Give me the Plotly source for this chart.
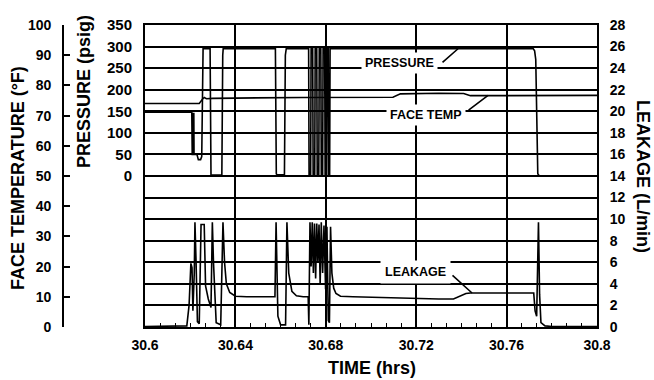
import plotly.graph_objects as go

# ---------------- data ----------------
time_ticks = [30.6, 30.64, 30.68, 30.72, 30.76, 30.8]
time_tick_text = ["30.6", "30.64", "30.68", "30.72", "30.76", "30.8"]
leak_ticks = [0, 2, 4, 6, 8, 10, 12, 14, 16, 18, 20, 22, 24, 26, 28]
temp_ticks = [0, 10, 20, 30, 40, 50, 60, 70, 80, 90, 100]
press_ticks = [0, 50, 100, 150, 200, 250, 300, 350]

leak_time = [30.6000, 30.6100, 30.6185, 30.6195, 30.6203, 30.6208, 30.6212, 30.6218,
             30.6221, 30.6226, 30.6232, 30.6240, 30.6248, 30.6262, 30.6268, 30.6280,
             30.6292, 30.6298, 30.6303, 30.6315, 30.6335, 30.6345, 30.6352, 30.6360,
             30.6375, 30.6400, 30.6450, 30.6575, 30.6580, 30.6588, 30.6600, 30.6622,
             30.6628, 30.6636, 30.6650, 30.6670, 30.6700, 30.6722, 30.6725, 30.6730,
             30.6735, 30.6740, 30.6745, 30.6750, 30.6755, 30.6760, 30.6765, 30.6770,
             30.6775, 30.6780, 30.6786, 30.6792, 30.6799, 30.6805, 30.6811, 30.6816,
             30.6821, 30.6827, 30.6835, 30.6845, 30.6865, 30.6920, 30.7000, 30.7100,
             30.7200, 30.7300, 30.7365, 30.7395, 30.7420, 30.7440, 30.7550, 30.7720,
             30.7726, 30.7733, 30.7741, 30.7746, 30.7752, 30.7770, 30.7800, 30.8000]
leak_lpm = [0.05, 0.10, 0.10, 2.0, 5.9, 5.5, 1.5, 5.0,
            9.7, 6.0, 0.5, 0.3, 9.5, 9.5, 3.8, 2.6,
            1.8, 9.7, 6.0, 0.4, 0.2, 9.7, 6.0, 4.0,
            3.2, 2.85, 2.8, 2.8, 9.7, 1.0, 0.2, 0.2,
            9.7, 5.0, 3.3, 2.9, 2.8, 2.8, 0.2, 9.7,
            5.6, 9.7, 5.0, 9.6, 4.5, 9.6, 6.0, 9.5,
            4.0, 9.7, 5.0, 9.4, 3.5, 9.3, 0.6, 0.4,
            9.3, 5.0, 3.6, 3.1, 2.85, 2.8, 2.75, 2.68,
            2.62, 2.6, 2.6, 2.9, 3.1, 3.15, 3.15, 3.15,
            1.5, 1.0, 9.7, 3.0, 0.4, 0.1, 0.05, 0.05]

press_time = [30.6000, 30.6207, 30.6209, 30.6213, 30.6214, 30.6216, 30.6217, 30.6230,
              30.6236, 30.6246, 30.6251, 30.6257, 30.6288, 30.6292, 30.6296, 30.6340,
              30.6344, 30.6346, 30.6577, 30.6581, 30.6585, 30.6617, 30.6621, 30.6625,
              30.6724, 30.6726, 30.6733, 30.6735, 30.6742, 30.6744, 30.6751, 30.6753,
              30.6760, 30.6762, 30.6769, 30.6771, 30.6778, 30.6780, 30.6786, 30.6788,
              30.6795, 30.6797, 30.6804, 30.6806, 30.6811, 30.6813, 30.6817, 30.6819,
              30.7718, 30.7724, 30.7729, 30.7732, 30.7738, 30.7745, 30.8000]
press_psig = [148, 148, 50, 50, 145, 145, 50, 50,
              38, 38, 45, 295, 295, 3, 2, 2,
              280, 295, 295, 5, 3, 3, 280, 295,
              295, 2, 2, 295, 295, 2, 2, 295,
              295, 2, 2, 295, 295, 2, 2, 295,
              295, 2, 2, 295, 295, 2, 2, 295,
              295, 290, 270, 150, 5, 0, 0]

temp_time = [30.6000, 30.6240, 30.6255, 30.6262, 30.6272, 30.6300, 30.6400, 30.6600,
             30.6700, 30.7097, 30.7130, 30.7300, 30.7410, 30.7440, 30.7600, 30.8000]
temp_f = [74.0, 74.0, 75.5, 76.0, 75.6, 75.7, 75.8, 76.0,
          76.0, 76.1, 77.2, 77.4, 77.3, 76.6, 76.7, 76.7]

# ---------------- figure ----------------
FONT = "Liberation Sans, Arial, Helvetica, sans-serif"
W, H = 654, 380
ML, MR, MT, MB = 0, 57, 25, 53
PW = W - ML - MR
line = dict(color="black", width=1.6)

fig = go.Figure()
fig.add_trace(go.Scatter(x=leak_time, y=leak_lpm, mode="lines", line=line,
                         yaxis="y", showlegend=False))
fig.add_trace(go.Scatter(x=press_time, y=press_psig, mode="lines", line=line,
                         yaxis="y3", showlegend=False))
fig.add_trace(go.Scatter(x=temp_time, y=temp_f, mode="lines", line=line,
                         yaxis="y2", showlegend=False))

tickfont = dict(family=FONT, size=14, color="black", weight="bold")

fig.update_layout(
    width=W, height=H,
    margin=dict(l=ML, r=MR, t=MT, b=MB, autoexpand=False),
    paper_bgcolor="white", plot_bgcolor="white",
    font=dict(family=FONT, color="black"),
    xaxis=dict(domain=[145 / PW, 1], range=[30.6, 30.8], automargin=False,
               tickvals=time_ticks, ticktext=time_tick_text,
               showgrid=True, gridcolor="black", gridwidth=1.7,
               showline=True, mirror=True, linecolor="black", linewidth=2,
               ticks="inside", ticklen=5, tickcolor="black", tickwidth=1.2,
               minor=dict(dtick=0.04 / 6, tick0=30.6, ticks="inside", ticklen=4,
                          tickcolor="black", tickwidth=1.2, showgrid=False),
               zeroline=False, tickfont=tickfont, ticklabelstandoff=4),
    yaxis=dict(range=[0, 28], tickvals=leak_ticks, side="right", automargin=False,
               showgrid=True, gridcolor="black", gridwidth=1.7,
               showline=True, mirror=True, linecolor="black", linewidth=2,
               ticks="", zeroline=False, tickfont=tickfont, ticklabelstandoff=8),
    yaxis2=dict(range=[0, 100], tickvals=temp_ticks, overlaying="y", anchor="free",
                position=63 / PW, side="left", showgrid=False, zeroline=False,
                automargin=False,
                showline=True, linecolor="black", linewidth=1.6,
                ticks="inside", ticklen=6, tickcolor="black", tickwidth=1.6,
                tickfont=tickfont, ticklabelstandoff=8),
    yaxis3=dict(range=[-350, 350], tickvals=press_ticks, overlaying="y", anchor="free",
                position=134 / PW, side="left", showgrid=False, zeroline=False,
                automargin=False,
                showline=False, ticks="",
                tickfont=dict(family=FONT, size=15, color="black", weight="bold"),
                ticklabelstandoff=2),
)

titlefont = dict(family=FONT, size=18, color="black", weight="bold")
labelfont = dict(family=FONT, size=12.5, color="black", weight="bold")

# axis titles
fig.add_annotation(text="FACE TEMPERATURE (°F)", xref="paper", yref="paper",
                   x=18 / PW, y=(327 - 178) / 302, textangle=-90, showarrow=False,
                   font=titlefont, xanchor="center", yanchor="middle")
fig.add_annotation(text="PRESSURE (psig)", xref="paper", yref="paper",
                   x=84 / PW, y=(327 - 92) / 302, textangle=-90, showarrow=False,
                   font=titlefont, xanchor="center", yanchor="middle")
fig.add_annotation(text="LEAKAGE (L/min)", xref="paper", yref="paper",
                   x=643 / PW, y=(327 - 176) / 302, textangle=90, showarrow=False,
                   font=titlefont, xanchor="center", yanchor="middle")
fig.add_annotation(text="TIME (hrs)", xref="paper", yref="paper",
                   x=372 / PW, y=(327 - 368) / 302, showarrow=False,
                   font=titlefont, xanchor="center", yanchor="middle")

# series labels (white boxes) and leader lines
fig.add_annotation(text="PRESSURE", x=30.7128, y=24.47, xref="x", yref="y",
                   showarrow=False, font=labelfont, bgcolor="white", borderpad=3)
fig.add_annotation(text="FACE TEMP", x=30.7243, y=19.65, xref="x", yref="y",
                   showarrow=False, font=labelfont, bgcolor="white", borderpad=3)
fig.add_annotation(text="LEAKAGE", x=30.7199, y=5.1, xref="x", yref="y",
                   showarrow=False, font=labelfont, bgcolor="white", borderpad=4)

arrow = dict(showarrow=True, arrowhead=0, arrowwidth=1.6, arrowcolor="black", text="")
fig.add_annotation(x=30.7385, y=295, xref="x", yref="y3", ax=-17, ay=15, **arrow)
fig.add_annotation(x=30.7518, y=76.7, xref="x", yref="y2", ax=-21, ay=16, **arrow)
fig.add_annotation(x=30.7447, y=3.15, xref="x", yref="y", ax=-21, ay=-19, **arrow)

fig.write_html("out.html", config={"displayModeBar": False},
               post_script="document.body.style.margin='0px';document.body.style.padding='0px';")
